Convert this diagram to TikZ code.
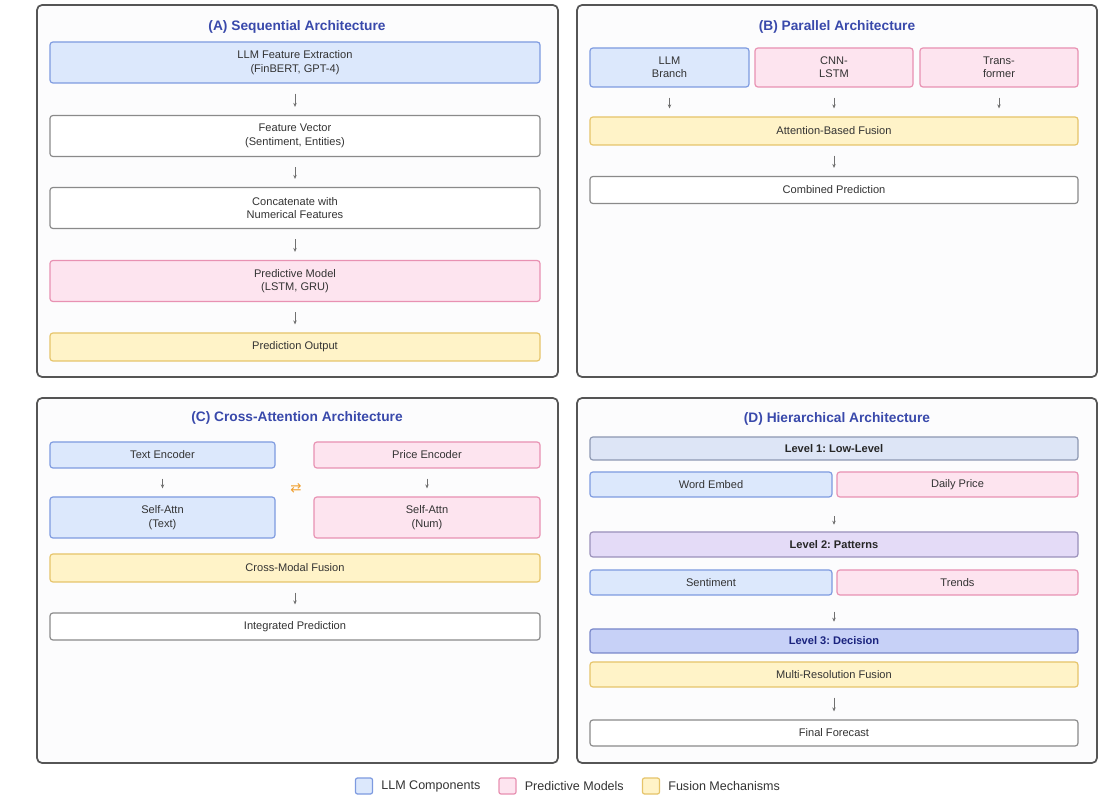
\documentclass[tikz,border=0pt]{standalone}
\usepackage{fontspec}
\setmainfont{Liberation Sans}
\newfontfamily\djv{DejaVu Sans}
\usetikzlibrary{arrows.meta}
\frenchspacing
\definecolor{panelc}{HTML}{555555}
\definecolor{panelbg}{HTML}{FCFCFD}
\definecolor{bfill}{HTML}{DCE8FC}
\definecolor{bdraw}{HTML}{7D9AE0}
\definecolor{pfill}{HTML}{FDE4EF}
\definecolor{pdraw}{HTML}{E891B2}
\definecolor{yfill}{HTML}{FFF3C8}
\definecolor{ydraw}{HTML}{E6C46A}
\definecolor{wdraw}{HTML}{8A8A8A}
\definecolor{lonefill}{HTML}{DDE5F6}
\definecolor{lonedraw}{HTML}{8D98B2}
\definecolor{ltwofill}{HTML}{E4DBF7}
\definecolor{ltwodraw}{HTML}{9A90BA}
\definecolor{lthreefill}{HTML}{C7D1F7}
\definecolor{lthreedraw}{HTML}{7886C9}
\definecolor{navy}{HTML}{1A237E}
\definecolor{ttlc}{HTML}{3949AB}
\definecolor{txt}{HTML}{333333}
\definecolor{arrc}{HTML}{707070}
\definecolor{swapc}{HTML}{F0A030}
\begin{document}
\begin{tikzpicture}[x=0.75pt,y=-0.75pt,
  panel/.style={draw=panelc, line width=1.3pt, fill=panelbg, rounded corners=3.75pt},
  box/.style={rectangle, rounded corners=2.2pt, line width=0.9pt, inner sep=0pt, align=center,
    font=\fontsize{8.3}{10}\selectfont, text=txt},
  bluebox/.style={box, fill=bfill, draw=bdraw},
  pinkbox/.style={box, fill=pfill, draw=pdraw},
  yellowbox/.style={box, fill=yfill, draw=ydraw},
  whitebox/.style={box, fill=white, draw=wdraw},
  lvlone/.style={box, fill=lonefill, draw=lonedraw, font=\fontsize{8.3}{10}\selectfont\bfseries, text=black!85},
  lvltwo/.style={box, fill=ltwofill, draw=ltwodraw, font=\fontsize{8.3}{10}\selectfont\bfseries, text=black!85},
  lvlthree/.style={box, fill=lthreefill, draw=lthreedraw, font=\fontsize{8.3}{10}\selectfont\bfseries, text=navy},
  ttl/.style={font=\fontsize{10.3}{12}\selectfont\bfseries, text=ttlc, inner sep=0pt},
  flow/.style={draw=arrc, line width=0.5pt, -{Stealth[length=3pt,width=2.6pt]},
    shorten <=7.5pt, shorten >=6pt},
  legsq/.style={rectangle, rounded corners=1.5pt, line width=0.9pt, minimum width=12.75pt, minimum height=12pt, inner sep=0pt},
  legtxt/.style={font=\fontsize{9.4}{11}\selectfont, text=txt, inner sep=0pt, anchor=west}
]
\useasboundingbox[fill=white] (0,0) rectangle (1108,805);

% Panels
\draw[panel] (37,5) rectangle (558,377);
\draw[panel] (577,5) rectangle (1097,377);
\draw[panel] (37,398) rectangle (558,763);
\draw[panel] (577,398) rectangle (1097,763);

% ---------- (A) ----------
\node[ttl] (ta) at (297,27) {(A) Sequential Architecture};
\node[bluebox, minimum width=367.5pt, minimum height=30.75pt] (a1) at (295,62.5) {LLM Feature Extraction\\(FinBERT, GPT-4)};
\node[whitebox, minimum width=367.5pt, minimum height=30.75pt] (a2) at (295,136) {Feature Vector\\(Sentiment, Entities)};
\node[whitebox, minimum width=367.5pt, minimum height=30.75pt] (a3) at (295,208) {Concatenate with\\Numerical Features};
\node[pinkbox, minimum width=367.5pt, minimum height=30.75pt] (a4) at (295,281) {Predictive Model\\(LSTM, GRU)};
\node[yellowbox, minimum width=367.5pt, minimum height=21pt] (a5) at (295,347) {Prediction Output};
\draw[flow] (a1.south) -- (a2.north);
\draw[flow] (a2.south) -- (a3.north);
\draw[flow] (a3.south) -- (a4.north);
\draw[flow] (a4.south) -- (a5.north);

% ---------- (B) ----------
\node[ttl] (tb) at (837,27) {(B) Parallel Architecture};
\node[bluebox, minimum width=119.25pt, minimum height=29.25pt] (b1) at (669.5,67.5) {LLM\\Branch};
\node[pinkbox, minimum width=118.5pt, minimum height=29.25pt] (b2) at (834,67.5) {CNN-\\LSTM};
\node[pinkbox, minimum width=118.5pt, minimum height=29.25pt] (b3) at (999,67.5) {Trans-\\former};
\node[yellowbox, minimum width=366pt, minimum height=21pt] (b4) at (834,131) {Attention-Based Fusion};
\node[whitebox, minimum width=366pt, minimum height=20.25pt] (b5) at (834,190) {Combined Prediction};
\draw[flow] (b1.south) -- (b1.south |- b4.north);
\draw[flow] (b2.south) -- (b2.south |- b4.north);
\draw[flow] (b3.south) -- (b3.south |- b4.north);
\draw[flow] (b4.south) -- (b5.north);

% ---------- (C) ----------
\node[ttl] (tc) at (297,418) {(C) Cross-Attention Architecture};
\node[bluebox, minimum width=168.75pt, minimum height=19.5pt] (c1) at (162.5,455) {Text Encoder};
\node[pinkbox, minimum width=169.5pt, minimum height=19.5pt] (c2) at (427,455) {Price Encoder};
\node[bluebox, minimum width=168.75pt, minimum height=30.75pt] (c3) at (162.5,517.5) {Self-Attn\\(Text)};
\node[pinkbox, minimum width=169.5pt, minimum height=30.75pt] (c4) at (427,517.5) {Self-Attn\\(Num)};
\node[text=swapc, inner sep=0pt, font=\djv\fontsize{10}{11}\selectfont] (swap) at (296,488) {⇄};
\node[yellowbox, minimum width=367.5pt, minimum height=21pt] (c5) at (295,568) {Cross-Modal Fusion};
\node[whitebox, minimum width=367.5pt, minimum height=20.25pt] (c6) at (295,626.5) {Integrated Prediction};
\draw[flow] (c1.south) -- (c3.north);
\draw[flow] (c2.south) -- (c4.north);
\draw[flow] (c5.south) -- (c6.north);

% ---------- (D) ----------
\node[ttl] (td) at (837,419) {(D) Hierarchical Architecture};
\node[lvlone, minimum width=366pt, minimum height=17.25pt] (d1) at (834,448.5) {Level 1: Low-Level};
\node[bluebox, minimum width=181.5pt, minimum height=18.75pt] (d2) at (711,484.5) {Word Embed};
\node[pinkbox, minimum width=180.75pt, minimum height=18.75pt] (d3) at (957.5,484.5) {Daily Price};
\node[lvltwo, minimum width=366pt, minimum height=18.75pt] (d4) at (834,544.5) {Level 2: Patterns};
\node[bluebox, minimum width=181.5pt, minimum height=18.75pt] (d5) at (711,582.5) {Sentiment};
\node[pinkbox, minimum width=180.75pt, minimum height=18.75pt] (d6) at (957.5,582.5) {Trends};
\node[lvlthree, minimum width=366pt, minimum height=18pt] (d7) at (834,641) {Level 3: Decision};
\node[yellowbox, minimum width=366pt, minimum height=18.75pt] (d8) at (834,674.5) {Multi-Resolution Fusion};
\node[whitebox, minimum width=366pt, minimum height=19.5pt] (d9) at (834,733) {Final Forecast};
\draw[flow, shorten <=14pt, shorten >=5pt] (d4.north |- d2.south) -- (d4.north);
\draw[flow, shorten <=12pt, shorten >=5pt] (d7.north |- d5.south) -- (d7.north);
\draw[flow] (d8.south) -- (d9.north);

% ---------- Legend ----------
\node[legsq, fill=bfill, draw=bdraw] (l1) at (364,786) {};
\node[legtxt] (lt1) at ([xshift=6pt]l1.east) {LLM Components};
\node[legsq, fill=pfill, draw=pdraw] (l2) at (507.5,786) {};
\node[legtxt] (lt2) at ([xshift=6pt]l2.east) {Predictive Models};
\node[legsq, fill=yfill, draw=ydraw] (l3) at (651,786) {};
\node[legtxt] (lt3) at ([xshift=6pt]l3.east) {Fusion Mechanisms};
\end{tikzpicture}
\end{document}
